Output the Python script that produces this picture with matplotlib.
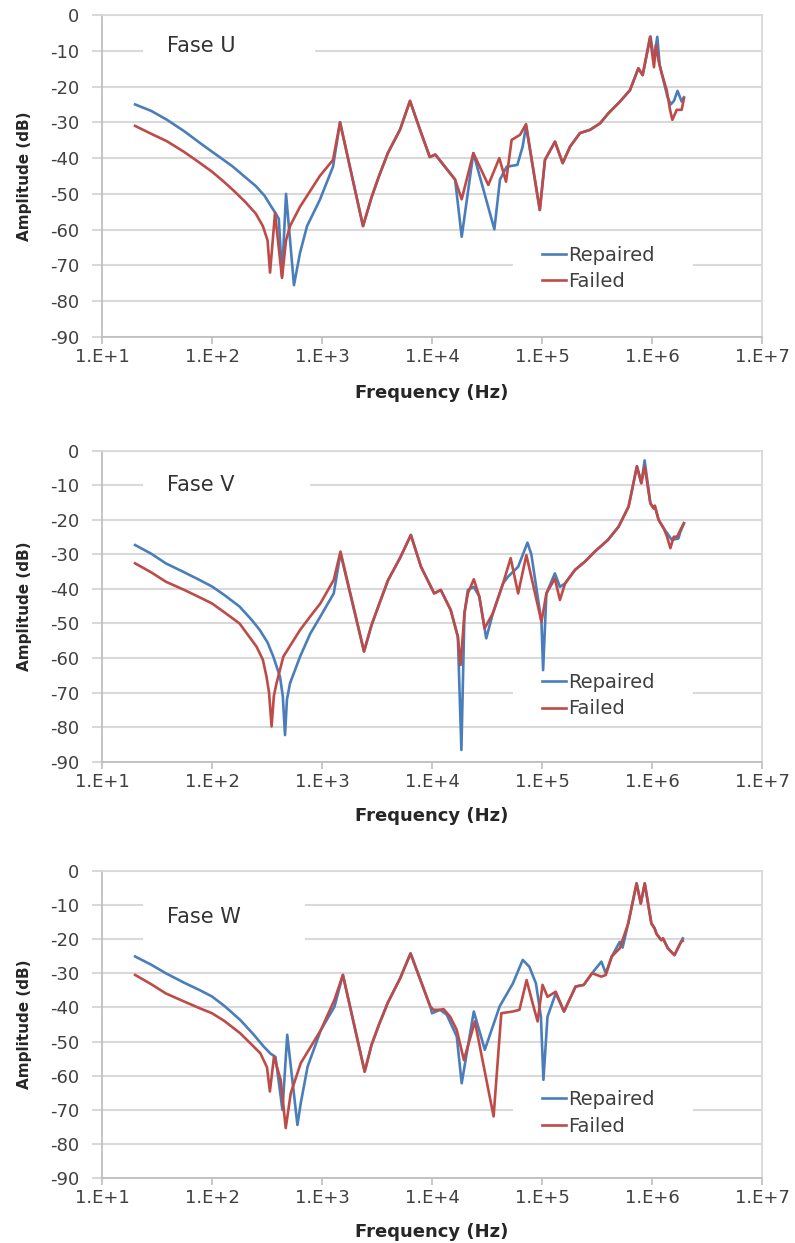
import numpy as np
import matplotlib
matplotlib.use("Agg")
import matplotlib.pyplot as plt
from matplotlib.patches import Rectangle

# ---------------- axis / label data ----------------
x_ticks = [1e1, 1e2, 1e3, 1e4, 1e5, 1e6, 1e7]
x_tick_labels = ["1.E+1", "1.E+2", "1.E+3", "1.E+4", "1.E+5", "1.E+6", "1.E+7"]
y_ticks = [0, -10, -20, -30, -40, -50, -60, -70, -80, -90]
y_tick_labels = ["0", "-10", "-20", "-30", "-40", "-50", "-60", "-70", "-80", "-90"]
phase_titles = ["Fase U", "Fase V", "Fase W"]
series_names = ["Repaired", "Failed"]
x_label = "Frequency (Hz)"
y_label = "Amplitude (dB)"

# ---------------- Fase U ----------------
u_rep_low_hz = [20, 28, 39, 56, 78, 100, 126, 155, 200, 250, 300, 345, 380, 405, 433, 471, 556, 631, 731, 955, 1259, 1459]
u_rep_low_db = [-25, -26.8, -29.3, -32.5, -35.8, -38.2, -40.4, -42.4, -45.3, -47.8, -50.5, -53.5, -55.5, -57, -73, -50, -75.5, -66.5, -59, -51.7, -42.4, -30]
u_fail_low_hz = [20, 28, 39, 56, 78, 100, 126, 155, 200, 250, 290, 320, 337, 374, 433, 471, 512, 631, 955, 1259, 1459]
u_fail_low_db = [-31, -33.2, -35.3, -38.3, -41.4, -43.8, -46.4, -48.9, -52.2, -55.5, -59, -63, -72, -55.4, -73.5, -63, -59, -53.6, -45, -40.5, -30]
u_mid_hz = [2360, 2818, 3300, 3981, 5129, 6310, 7762, 9550, 10715, 13183, 16218]
u_mid_db = [-59, -51, -45, -38.5, -32, -24, -32, -39.7, -39, -42.5, -46]
u_rep_hi_hz = [18621, 23768, 36898, 41495, 47753, 59704, 66681, 71614, 95499]
u_rep_hi_db = [-62, -38.6, -59.9, -46, -42.4, -41.9, -36.8, -31, -54.5]
u_fail_hi_hz = [18621, 23768, 32509, 40926, 47098, 52966, 63096, 71614, 95499]
u_fail_hi_db = [-51.5, -38.6, -47.5, -40, -46.6, -34.9, -33.5, -30.5, -54.5]
u_top_hz = [106414, 131220, 154170, 179887, 221309, 272898, 336512, 400867, 511682, 630957, 751623, 822243]
u_top_db = [-40.5, -35.4, -41.4, -36.8, -33, -32.1, -30.3, -27.5, -24.2, -21, -14.9, -16.8]
u_rep_tail_hz = [970000, 1040000, 1117000, 1175000, 1225000, 1380000, 1479000, 1585000, 1706000, 1862000, 1950000]
u_rep_tail_db = [-6, -12.5, -6.1, -14, -16.3, -22.8, -25, -24, -21.2, -24.2, -23]
u_fail_tail_hz = [959000, 1042000, 1086000, 1150000, 1225000, 1361000, 1459000, 1531000, 1679000, 1862000, 1950000]
u_fail_tail_db = [-6.1, -14.6, -8.4, -13, -16.3, -21, -26.5, -29.3, -26.5, -26.5, -23.3]

# ---------------- Fase V ----------------
v_rep_low_hz = [20, 28, 38, 56, 78, 100, 130, 178, 230, 272, 320, 361, 415, 440, 461, 480, 512, 632, 780, 966, 1279, 1472]
v_rep_low_db = [-27.3, -29.8, -32.6, -35.2, -37.5, -39.3, -41.8, -45.1, -49, -51.9, -55.5, -59.6, -65.4, -71, -82.3, -72, -67.3, -59.6, -53, -48, -41.3, -29.7]
v_fail_low_hz = [20, 28, 38, 56, 78, 100, 130, 178, 254, 290, 313, 330, 348, 365, 386, 445, 631, 780, 966, 1279, 1472]
v_fail_low_db = [-32.6, -35.2, -37.9, -40.3, -42.5, -44.2, -46.8, -50, -56.7, -60.5, -65.4, -70, -79.8, -71, -67.3, -59.6, -51.9, -48, -44.2, -37.4, -29.2]
v_mid_hz = [2410, 2818, 3300, 3981, 5129, 6427, 7943, 10471, 12023, 14791, 17179]
v_mid_db = [-58.1, -50.5, -44.5, -37.5, -31, -24.4, -33.6, -41.3, -40.3, -46.1, -53.8]
v_rep_hi_hz = [18500, 19724, 21184, 23988, 26915, 31117, 35810, 44259, 48978, 60674, 73790, 80000, 98855, 102329, 109648, 130918, 145546, 162181]
v_rep_hi_db = [-86.6, -47, -40.3, -39.4, -42.2, -54.3, -47, -38.4, -36.5, -33.6, -26.6, -30, -49.5, -63.5, -41.3, -35.5, -39.4, -38.4]
v_fail_hi_hz = [18197, 19724, 21184, 23988, 26915, 30061, 35810, 44259, 51880, 60674, 72111, 98855, 109648, 130918, 145546, 162181]
v_fail_hi_db = [-62, -47, -41.3, -37.2, -42.2, -51.4, -47, -38.4, -31.1, -41.3, -30.2, -49.5, -41.3, -37, -43.2, -38.4]
v_top_hz = [199526, 245471, 301995, 398107, 496592, 612350, 729458, 799834]
v_top_db = [-34.5, -32.1, -29.2, -25.8, -22, -16.2, -4.5, -9.4]
v_rep_tail_hz = [857038, 966051, 1035142, 1060000, 1148154, 1279381, 1513561, 1737801, 1811340, 1949845]
v_rep_tail_db = [-2.8, -15.2, -16.7, -16, -20, -22.5, -25.8, -25.4, -23.5, -21]
v_fail_tail_hz = [857038, 966051, 1035142, 1060000, 1148154, 1279381, 1370882, 1468926, 1577611, 1690440, 1811340, 1949845]
v_fail_tail_db = [-4.5, -15.2, -16.7, -15.9, -20, -22.5, -24.9, -28.2, -24.9, -24.9, -22.9, -21]

# ---------------- Fase W ----------------
w_rep_low_hz = [20, 28, 38, 56, 78, 100, 130, 181, 240, 296, 340, 378, 437, 483, 598, 641, 740, 977, 1297, 1549]
w_rep_low_db = [-25.1, -27.5, -30, -32.8, -35, -36.8, -39.6, -43.7, -48, -51.5, -53.5, -54.5, -70, -48, -74.4, -68, -57.3, -46.6, -39.8, -30.5]
w_fail_low_hz = [20, 28, 38, 56, 78, 100, 130, 181, 275, 316, 336, 366, 421, 468, 520, 641, 977, 1297, 1549]
w_fail_low_db = [-30.5, -33.2, -35.9, -38.3, -40.3, -41.7, -44, -47.6, -53.4, -57.5, -64.6, -54.4, -61.2, -75.3, -65.1, -56.3, -46.6, -37.8, -30.5]
w_mid_hz = [2443, 2818, 3300, 3981, 5129, 6383, 7852, 9661]
w_mid_db = [-58.8, -51, -45, -38.5, -31.5, -24.2, -32, -39.8]
w_rep_hi_hz = [10000, 11885, 13646, 16788, 18621, 23988, 30200, 41210, 54325, 66834, 76736, 88105, 97724, 103039, 112202, 133352, 158489]
w_rep_hi_db = [-41.7, -40.7, -42.2, -48.5, -62.2, -41.2, -52.4, -39.7, -33, -26.1, -28.1, -33, -42.7, -61.2, -42.7, -35.9, -41.2]
w_fail_hi_hz = [10351, 11885, 12735, 14622, 16788, 19498, 24547, 36308, 42658, 54325, 62373, 72444, 82224, 91201, 101158, 112202, 133352, 158489]
w_fail_hi_db = [-40.7, -40.7, -40.5, -42.7, -46.6, -55.4, -44.1, -71.9, -41.7, -41.2, -40.7, -32, -38.8, -44.1, -33.4, -36.9, -35.4, -41.2]
w_top_hz = [201837, 239883, 285102]
w_top_db = [-33.9, -33.4, -30]
w_rep_tail_hz = [346737, 380189, 430527, 509331, 540000, 608135, 724436, 790679, 859014, 986279, 1056818, 1100000, 1213389, 1258925, 1393157, 1599558, 1836538, 1905461]
w_rep_tail_db = [-26.6, -30, -25.1, -20.8, -22.5, -15.4, -3.7, -9.6, -3.7, -15.4, -16.9, -18.5, -20.3, -19.8, -22.7, -24.7, -20.8, -19.8]
w_fail_tail_hz = [346737, 380189, 430527, 509331, 608135, 724436, 790679, 859014, 986279, 1056818, 1100000, 1213389, 1258925, 1393157, 1599558, 1836538, 1905461]
w_fail_tail_db = [-31, -30.5, -25.1, -22.7, -15.4, -3.7, -9.6, -3.7, -15.4, -16.9, -18.5, -20.3, -19.8, -22.7, -24.7, -20.8, -20.5]

panels = [
    (
        (u_rep_low_hz + u_mid_hz + u_rep_hi_hz + u_top_hz + u_rep_tail_hz,
         u_rep_low_db + u_mid_db + u_rep_hi_db + u_top_db + u_rep_tail_db),
        (u_fail_low_hz + u_mid_hz + u_fail_hi_hz + u_top_hz + u_fail_tail_hz,
         u_fail_low_db + u_mid_db + u_fail_hi_db + u_top_db + u_fail_tail_db),
    ),
    (
        (v_rep_low_hz + v_mid_hz + v_rep_hi_hz + v_top_hz + v_rep_tail_hz,
         v_rep_low_db + v_mid_db + v_rep_hi_db + v_top_db + v_rep_tail_db),
        (v_fail_low_hz + v_mid_hz + v_fail_hi_hz + v_top_hz + v_fail_tail_hz,
         v_fail_low_db + v_mid_db + v_fail_hi_db + v_top_db + v_fail_tail_db),
    ),
    (
        (w_rep_low_hz + w_mid_hz + w_rep_hi_hz + w_top_hz + w_rep_tail_hz,
         w_rep_low_db + w_mid_db + w_rep_hi_db + w_top_db + w_rep_tail_db),
        (w_fail_low_hz + w_mid_hz + w_fail_hi_hz + w_top_hz + w_fail_tail_hz,
         w_fail_low_db + w_mid_db + w_fail_hi_db + w_top_db + w_fail_tail_db),
    ),
]

# ---------------- styling / layout ----------------
plt.rcParams["font.family"] = ["DejaVu Sans"]
BLUE = "#4A7EBB"
RED = "#BE4B48"
GRID = "#D9D9D9"
AXIS = "#BFBFBF"
TXT = "#404040"

fig = plt.figure(figsize=(7.95, 12.43), dpi=100)
W, H = 795.0, 1243.0
ax_left, ax_right = 102, 762
panel_px = [(15, 337), (450.7, 761.7), (870.7, 1178.3)]
title_y = [0.903, 0.89, 0.85]
title_box = [(0.062, 0.80, 0.261, 0.17), (0.062, 0.80, 0.253, 0.17), (0.062, 0.70, 0.246, 0.27)]

for i, ((rep_hz, rep_db), (fail_hz, fail_db)) in enumerate(panels):
    top, bot = panel_px[i]
    ax = fig.add_axes([ax_left / W, 1 - bot / H, (ax_right - ax_left) / W, (bot - top) / H])
    ax.set_xscale("log")
    ax.set_xlim(1e1, 1e7)
    ax.set_ylim(-90, 0)
    ax.set_axisbelow(True)
    ax.yaxis.grid(True, color=GRID, lw=1.5)
    ax.xaxis.grid(False)
    ax.minorticks_off()
    ax.set_xticks(x_ticks)
    ax.set_xticklabels(x_tick_labels)
    ax.set_yticks(y_ticks)
    ax.set_yticklabels(y_tick_labels)
    ax.tick_params(axis="x", direction="out", length=5, width=1.2, color=AXIS,
                   labelsize=13, labelcolor=TXT, pad=3)
    ax.tick_params(axis="y", direction="out", length=7, width=1.5, color=GRID,
                   labelsize=13, labelcolor=TXT, pad=9.5)
    for s in ["left", "bottom"]:
        ax.spines[s].set_color(AXIS)
        ax.spines[s].set_linewidth(1.3)
    for s in ["right", "top"]:
        ax.spines[s].set_color(GRID)
        ax.spines[s].set_linewidth(1.3)

    ax.plot(rep_hz, rep_db, color=BLUE, lw=1.9, solid_joinstyle="round", label=series_names[0], zorder=3)
    ax.plot(fail_hz, fail_db, color=RED, lw=1.9, solid_joinstyle="round", label=series_names[1], zorder=4)

    bx, by, bw, bh = title_box[i]
    ax.add_patch(Rectangle((bx, by), bw, bh, transform=ax.transAxes,
                           facecolor="white", edgecolor="none", zorder=1))
    ax.text(0.098, title_y[i], phase_titles[i], transform=ax.transAxes,
            ha="left", va="center", fontsize=15, color="#333333", zorder=5)

    ax.add_patch(Rectangle((0.623, 0.125), 0.272, 0.185, transform=ax.transAxes,
                           facecolor="white", edgecolor="none", zorder=1))
    ax.legend(loc="center left", bbox_to_anchor=(0.666, 0.213), frameon=False,
              handlelength=1.25, handletextpad=0.1, labelspacing=0.4,
              fontsize=14, borderpad=0, borderaxespad=0, labelcolor=TXT)

    ax.set_xlabel(x_label, fontsize=13, fontweight="bold", color="#262626")
    ax.xaxis.set_label_coords(0.5, -0.145)
    ax.set_ylabel(y_label, fontsize=11, fontweight="bold", color="#262626")
    ax.yaxis.set_label_coords(-0.106, 0.5)

fig.savefig("out.png", dpi=100, facecolor="white")
